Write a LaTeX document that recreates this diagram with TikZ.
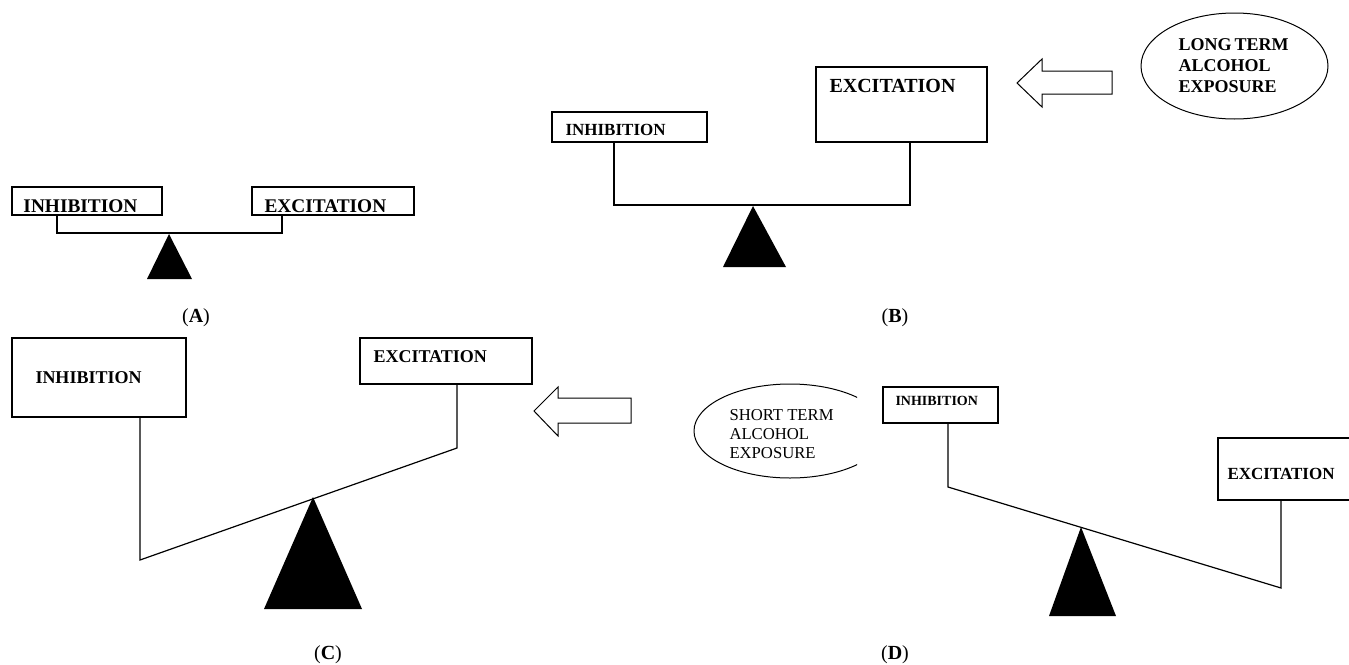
\documentclass[tikz,border=0pt]{standalone}
\usepackage{fontspec}
\setmainfont{Liberation Serif}
\usetikzlibrary{fit}
\newcommand{\fsz}[1]{\fontsize{#1}{#1}\selectfont}

\tikzset{every picture/.style={line width=0.75pt}}
\tikzset{
  boxfr/.style={draw, rectangle, line width=1.5pt, inner sep=0pt},
  word/.style={anchor=base west, inner sep=0pt},
  beam/.style={line width=0.9pt},
  tagl/.style={anchor=base, inner sep=0pt, font=\fsz{15}},
}

\begin{document}
\begin{tikzpicture}[x=0.75pt,y=0.75pt,yscale=-1,xscale=1]
\useasboundingbox (0,0) rectangle (1349,664);

%%%%%%%%%% (A)
%Shape: Rectangle
\node[boxfr, fit={(12,187) (162,215)}] (aInh) {};
\node[word, font=\bfseries\fsz{14.5}] (aInhT) at (23,212) {INHIBITION};
%Shape: Rectangle
\node[boxfr, fit={(252,187) (414,215)}] (aExc) {};
\node[word, font=\bfseries\fsz{14.5}] (aExcT) at (264,212) {EXCITATION};
%Straight Lines
\coordinate (aL) at (57,233);
\coordinate (aR) at (282,233);
\draw[beam] (aInh.south -| aL) -- (aL) -- (aR) -- (aExc.south -| aR);
%Shape: Triangle
\fill (147,279) -- (169,234) -- (192,279) -- cycle;
\node[tagl] (aTag) at (196,322) {(\textbf{A})};

%%%%%%%%%% (B)
%Shape: Rectangle
\node[boxfr, fit={(552,112) (707,142)}] (bInh) {};
\node[word, font=\bfseries\fsz{12.75}] (bInhT) at (565,135) {INHIBITION};
%Shape: Rectangle
\node[boxfr, fit={(816,67) (987,142)}] (bExc) {};
\node[word, font=\bfseries\fsz{15}] (bExcT) at (829,92) {EXCITATION};
%Straight Lines
\coordinate (bL) at (614,205);
\coordinate (bR) at (910,205);
\draw[beam] (bInh.south -| bL) -- (bL) -- (bR) -- (bExc.south -| bR);
%Shape: Triangle
\fill (723,267) -- (753,206) -- (786,267) -- cycle;
%Left Arrow
\draw (1017,83) -- (1042,59) -- (1042,71) -- (1112,71) -- (1112,94) -- (1042,94) -- (1042,107) -- cycle;
%Shape: Ellipse
\draw (1234.5,66) ellipse [x radius=93.5, y radius=53];
\node[word, font=\bfseries\fsz{13.5}] (bLong1) at (1178,50) {LONG\,TERM};
\node[word, font=\bfseries\fsz{13.5}] (bLong2) at (1178,71) {ALCOHOL};
\node[word, font=\bfseries\fsz{13.5}] (bLong3) at (1178,92) {EXPOSURE};
\node[tagl] (bTag) at (895,322) {(\textbf{B})};

%%%%%%%%%% (C)
%Shape: Rectangle
\node[boxfr, fit={(12,338) (186,417)}] (cInh) {};
\node[word, font=\bfseries\fsz{13.5}] (cInhT) at (35,383) {INHIBITION};
%Shape: Rectangle
\node[boxfr, fit={(360,338) (532,384)}] (cExc) {};
\node[word, font=\bfseries\fsz{13.5}] (cExcT) at (373,362) {EXCITATION};
%Straight Lines
\coordinate (cL) at (140,560);
\coordinate (cR) at (457,448);
\draw[beam] (cInh.south -| cL) -- (cL) -- (cR) -- (cExc.south -| cR);
%Shape: Triangle
\fill (264,609) -- (313,497) -- (362,609) -- cycle;
%Left Arrow
\draw (534,411) -- (558,387) -- (558,398) -- (631,398) -- (631,423) -- (558,423) -- (558,436) -- cycle;
\node[tagl] (cTag) at (328,659) {(\textbf{C})};

%%%%%%%%%% (D)
%Shape: Ellipse
\begin{scope}
\clip (680,370) rectangle (857,490);
\draw (790,431) ellipse [x radius=96, y radius=47];
\end{scope}
\node[word, font=\fsz{12.5}] (dShort1) at (729,420) {SHORT TERM};
\node[word, font=\fsz{12.5}] (dShort2) at (729,439) {ALCOHOL};
\node[word, font=\fsz{12.5}] (dShort3) at (729,458) {EXPOSURE};
%Shape: Rectangle
\node[boxfr, fit={(883,387) (998,423)}] (dInh) {};
\node[word, font=\bfseries\fsz{10.5}] (dInhT) at (895,405) {INHIBITION};
%Shape: Rectangle
\node[boxfr, fit={(1218,438) (1353,500)}] (dExc) {};
\node[word, font=\bfseries\fsz{12.75}] (dExcT) at (1227,479) {EXCITATION};
%Straight Lines
\coordinate (dL) at (948,487);
\coordinate (dR) at (1281,588);
\draw[beam] (dInh.south -| dL) -- (dL) -- (dR) -- (dExc.south -| dR);
%Shape: Triangle
\fill (1049,616) -- (1081,527) -- (1116,616) -- cycle;
\node[tagl] (dTag) at (895,659) {(\textbf{D})};

\end{tikzpicture}
\end{document}
